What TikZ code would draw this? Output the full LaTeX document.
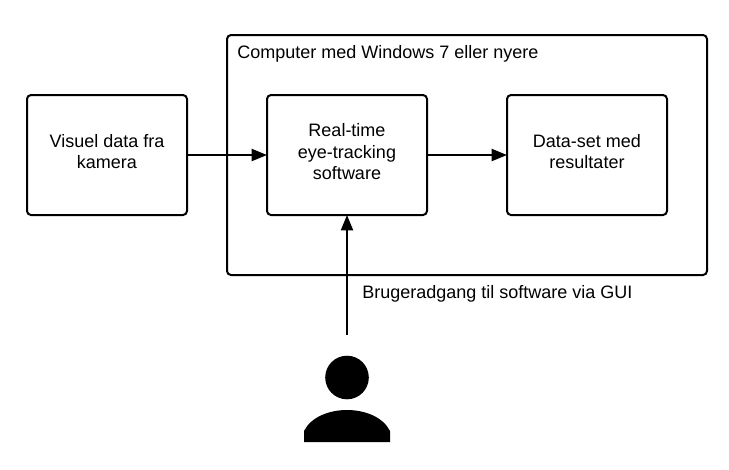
\documentclass[tikz,border=0pt]{standalone}
\usepackage{fontspec}
\setmainfont{Liberation Sans}
\usetikzlibrary{positioning, arrows.meta}

\begin{document}
\begin{tikzpicture}[
    x=0.75pt, y=-0.75pt,
    node distance=60pt and 60pt,
    box/.style={draw, line width=1.5pt, rounded corners=3pt, minimum width=120pt, minimum height=90pt, font=\fontsize{13.5}{16}\selectfont, align=center, inner sep=0pt, outer sep=0pt, text depth=5.2pt},
    outer/.style={box, minimum width=360pt, minimum height=180pt},
    lbl/.style={font=\fontsize{13.5}{16}\selectfont, inner sep=0pt},
    arr/.style={-{Triangle[length=11.5pt, width=9pt]}, line width=1.5pt},
]
\useasboundingbox (0,0) rectangle (729,469);

% Computer frame
\node[outer] (computer) at (467,155) {};
\node[lbl, anchor=base west] (computerlabel) at (237,58.5) {Computer med Windows 7 eller nyere};

% Boxes
\node[box] (software) at (347,155) {Real-time\\eye-tracking\\software};
\node[box, left=60pt of software] (camera) {Visuel data fra\\kamera};
\node[box, right=60pt of software] (results) {Data-set med\\resultater};

% User
\node[circle, fill=black, inner sep=0pt, minimum size=32.7pt] (head) at (347,377.5) {};
\coordinate (user) at (347,335);
\fill[black] (304,442) -- (304,431) .. controls (311,417) and (329,410) .. (347,410) .. controls (365,410) and (383,417) .. (390,431) -- (390,442) -- cycle;
\node[lbl, anchor=base west] (userlabel) at (362,298.5) {Brugeradgang til software via GUI};

% Arrows
\draw[arr] (camera) -- (software);
\draw[arr] (software) -- (results);
\draw[arr] (user) -- (software);
\end{tikzpicture}
\end{document}
